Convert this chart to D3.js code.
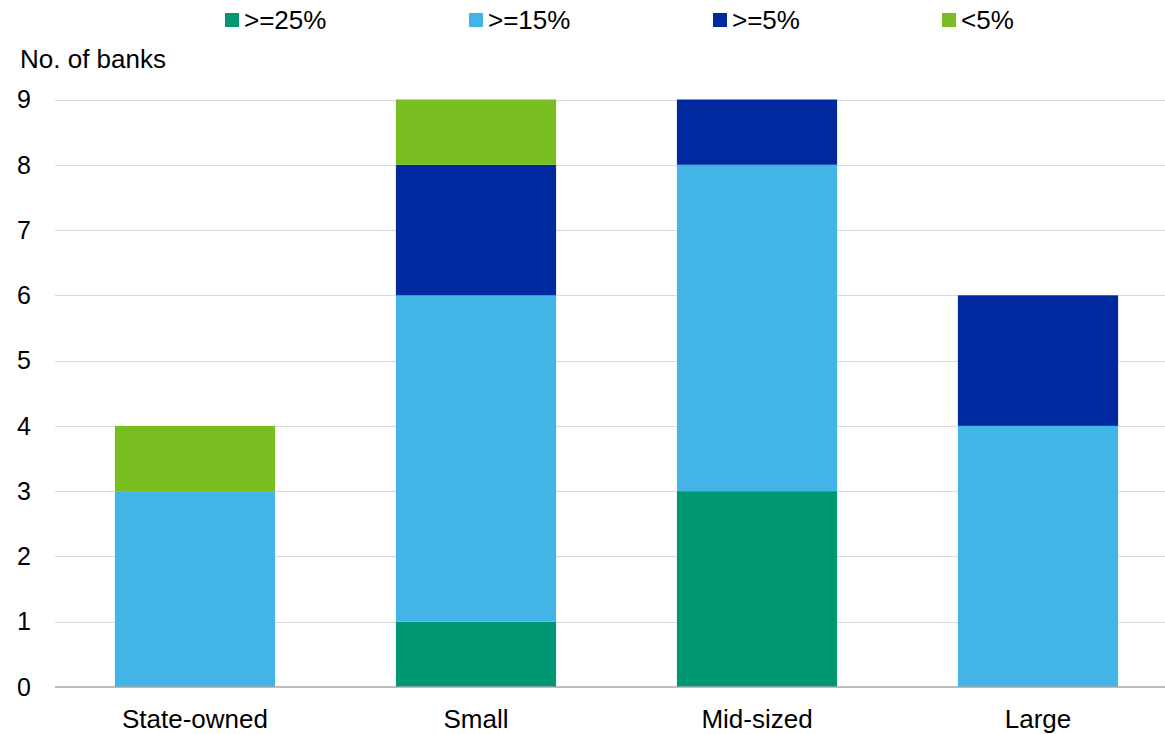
<!DOCTYPE html>
<html>
<head>
<meta charset="utf-8">
<script src="https://cdn.jsdelivr.net/npm/d3@7/dist/d3.min.js"></script>
<style>
  html, body { margin: 0; padding: 0; background: #fff; }
  svg { display: block; font-family: "Liberation Sans", Arial, sans-serif; }
</style>
</head>
<body>
<svg id="chart" width="1165" height="734"></svg>
<script>
// Bank groups and the number of banks per capital-ratio bucket
const categories = ["State-owned", "Small", "Mid-sized", "Large"];
const seriesNames = [">=25%", ">=15%", ">=5%", "<5%"];
const ge25 = [0, 1, 3, 0];
const ge15 = [3, 5, 5, 4];
const ge5  = [0, 2, 1, 2];
const lt5  = [1, 1, 0, 0];
const yTicks = [0, 1, 2, 3, 4, 5, 6, 7, 8, 9];

const colors = ["#009874", "#42B4E6", "#0029A0", "#79BE21"];
const legendX = [225, 469, 713, 942];

const rows = categories.map((c, i) => ({
  cat: c,
  [seriesNames[0]]: ge25[i],
  [seriesNames[1]]: ge15[i],
  [seriesNames[2]]: ge5[i],
  [seriesNames[3]]: lt5[i]
}));

const svg = d3.select("#chart");
const left = 55, right = 1165, plotEnd = 1178.5;

const x = d3.scaleBand().domain(categories).range([54.5, plotEnd])
  .paddingInner(0.43).paddingOuter(0.215);
const y = d3.scaleLinear().domain([0, 9]).range([687, 99.5]);

// horizontal gridlines
svg.append("g").selectAll("line").data(yTicks.filter(d => d > 0)).join("line")
  .attr("x1", left).attr("x2", right)
  .attr("y1", d => Math.round(y(d)) + 0.5).attr("y2", d => Math.round(y(d)) + 0.5)
  .attr("stroke", "#D9D9D9").attr("stroke-width", 1);

// stacked bars
const stacked = d3.stack().keys(seriesNames)(rows);
svg.append("g").selectAll("g").data(stacked).join("g")
  .attr("fill", (d, i) => colors[i])
  .selectAll("rect").data(d => d.filter(s => s[1] > s[0])).join("rect")
  .attr("x", d => x(d.data.cat))
  .attr("width", x.bandwidth())
  .attr("y", d => y(d[1]))
  .attr("height", d => y(d[0]) - y(d[1]));

// baseline
svg.append("line")
  .attr("x1", left).attr("x2", right)
  .attr("y1", y(0)).attr("y2", y(0))
  .attr("stroke", "#A6A6A6").attr("stroke-width", 1.5);

// y tick labels
svg.append("g").selectAll("text").data(yTicks).join("text")
  .attr("x", 31).attr("y", d => y(d)).attr("dy", "0.35em")
  .attr("text-anchor", "end").attr("font-size", 25).attr("fill", "#000")
  .text(d => d);

// x category labels
svg.append("g").selectAll("text").data(categories).join("text")
  .attr("x", d => x(d) + x.bandwidth() / 2).attr("y", 728)
  .attr("text-anchor", "middle").attr("font-size", 26).attr("fill", "#000")
  .text(d => d);

// axis title
svg.append("text").attr("x", 20).attr("y", 68)
  .attr("font-size", 26).attr("fill", "#000").text("No. of banks");

// legend
const lg = svg.append("g").selectAll("g").data(seriesNames).join("g")
  .attr("transform", (d, i) => `translate(${legendX[i]},0)`);
lg.append("rect").attr("x", 0).attr("y", 13).attr("width", 14).attr("height", 14)
  .attr("fill", (d, i) => colors[i]);
lg.append("text").attr("x", 19).attr("y", 29)
  .attr("font-size", 26).attr("fill", "#000").text(d => d);
</script>
</body>
</html>
